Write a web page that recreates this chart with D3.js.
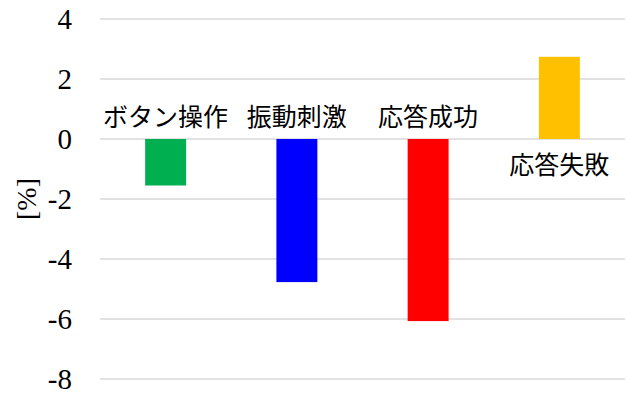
<!DOCTYPE html>
<html>
<head>
<meta charset="utf-8">
<script src="https://cdn.jsdelivr.net/npm/d3@7"></script>
<style>
  body { margin: 0; background: #fff; }
  .serif { font-family: "Liberation Serif", "DejaVu Serif", serif; }
  .jp { font-family: "Noto Sans CJK JP", "Noto Sans", sans-serif; }
</style>
</head>
<body>
<svg id="chart" width="627" height="394"></svg>
<script>
// data
const categories = ["ボタン操作", "振動刺激", "応答成功", "応答失敗"];
const values = [-1.55, -4.77, -6.07, 2.74];
const colors = ["#00b050", "#0000ff", "#ff0000", "#ffc000"];
const yTicks = [4, 2, 0, -2, -4, -6, -8];

const svg = d3.select("#chart");
const [plotL, plotR, plotT, plotB] = [100, 625, 19, 379];

let x = d3.scaleBand().domain(categories).range([plotL, plotR]).padding(0);
let y = d3.scaleLinear().domain([-8, 4]).range([plotB, plotT]);
let bw = x.bandwidth() * 0.312;

// gridlines
svg.append("g")
  .selectAll("line")
  .data(yTicks)
  .join("line")
  .attr("x1", plotL)
  .attr("x2", plotR)
  .attr("y1", d => y(d))
  .attr("y2", d => y(d))
  .attr("stroke", "#d9d9d9")
  .attr("stroke-width", 1.3);

// tick labels
svg.append("g")
  .selectAll("text")
  .data(yTicks)
  .join("text")
  .attr("class", "serif")
  .attr("x", 72)
  .attr("y", d => y(d))
  .attr("dy", "0.34em")
  .attr("text-anchor", "end")
  .attr("font-size", 29)
  .attr("fill", "#000")
  .text(d => d);

// axis title
svg.append("text")
  .attr("class", "serif")
  .attr("transform", `translate(36, ${(plotT + plotB) / 2}) rotate(-90)`)
  .attr("text-anchor", "middle")
  .attr("font-size", 28)
  .attr("fill", "#000")
  .text("[%]");

// bars
svg.append("g")
  .selectAll("rect")
  .data(values)
  .join("rect")
  .attr("x", (d, i) => x(categories[i]) + x.bandwidth() / 2 - bw / 2)
  .attr("width", bw)
  .attr("y", d => y(Math.max(0, d)))
  .attr("height", d => Math.abs(y(d) - y(0)))
  .attr("fill", (d, i) => colors[i]);

// category labels, on the opposite side of zero from the bar
svg.append("g")
  .selectAll("text")
  .data(values)
  .join("text")
  .attr("class", "jp")
  .attr("x", (d, i) => x(categories[i]) + x.bandwidth() / 2)
  .attr("y", d => d < 0 ? y(0) - 24 : y(0) + 24)
  .attr("dominant-baseline", "central")
  .attr("text-anchor", "middle")
  .attr("font-size", 25)
  .attr("fill", "#000")
  .text((d, i) => categories[i]);
</script>
</body>
</html>
